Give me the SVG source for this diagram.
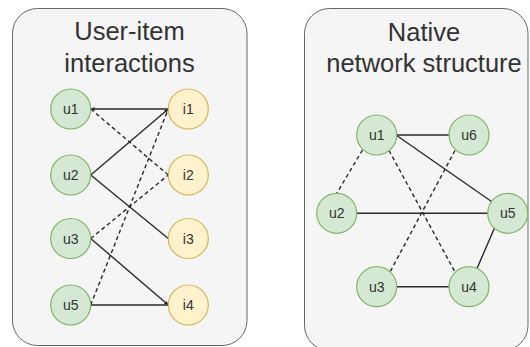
<svg xmlns="http://www.w3.org/2000/svg" width="530" height="347" viewBox="0 0 530 347">
  <style>
    .panel { fill: #f5f5f5; stroke: #666666; stroke-width: 1; }
    .title { font-family: "Liberation Sans", Arial, Helvetica, sans-serif; font-size: 25.5px; fill: #333333; text-anchor: middle; }
    .user { fill: #d5e8d4; stroke: #82b366; stroke-width: 1.2; }
    .item { fill: #fff2cc; stroke: #d6b656; stroke-width: 1.2; }
    .lbl { font-family: "Liberation Sans", Arial, Helvetica, sans-serif; font-size: 14px; fill: #333333; text-anchor: middle; }
    .edge { stroke: #2a2a2a; stroke-width: 1.4; fill: none; }
    .dash { stroke-dasharray: 4 3; }
  </style>
  <defs>
    <marker id="tip" viewBox="0 0 4 4" refX="4" refY="2" markerWidth="4" markerHeight="4" markerUnits="userSpaceOnUse" orient="auto">
      <path d="M0,0 L4,2 L0,4 z" fill="#2a2a2a"/>
    </marker>
  </defs>

  <!-- panels -->
  <g id="panel-interactions">
    <rect class="panel" x="12.5" y="8.5" width="234.5" height="337" rx="25" ry="25"/>
    <text class="title" x="129.5" y="40">User-item</text>
    <text class="title" x="129.5" y="71.5">interactions</text>
  </g>
  <g id="panel-network">
    <rect class="panel" x="304.5" y="8.5" width="223.5" height="342" rx="25" ry="25"/>
    <text class="title" x="424" y="40.5">Native</text>
    <text class="title" x="424" y="71.5">network structure</text>
  </g>

  <!-- connectors -->
  <g id="connectors">
    <!-- bipartite user-item links -->
    <line class="edge" x1="168.3" y1="109" x2="90.7" y2="109" marker-end="url(#tip)"/>
    <line class="edge dash" x1="90.7" y1="109" x2="168.3" y2="175"/>
    <line class="edge" x1="90.7" y1="175" x2="168.3" y2="109" marker-end="url(#tip)"/>
    <line class="edge" x1="90.7" y1="175" x2="168.3" y2="238.5"/>
    <line class="edge dash" x1="90.7" y1="238.5" x2="168.3" y2="175"/>
    <line class="edge" x1="90.7" y1="238.5" x2="168.3" y2="305" marker-end="url(#tip)"/>
    <line class="edge dash" x1="90.7" y1="305" x2="168.3" y2="109"/>
    <line class="edge" x1="90.7" y1="305" x2="168.3" y2="305"/>
    <!-- user-user network links -->
    <line class="edge" x1="396.7" y1="135" x2="449" y2="135"/>
    <line class="edge" x1="396.7" y1="135.5" x2="491.5" y2="201.5"/>
    <line class="edge dash" x1="362.5" y1="150" x2="336.7" y2="193.3"/>
    <line class="edge dash" x1="389" y1="150.5" x2="455" y2="272"/>
    <line class="edge dash" x1="455" y1="150.5" x2="390" y2="272"/>
    <line class="edge" x1="356.7" y1="213.3" x2="487.7" y2="213.3"/>
    <line class="edge" x1="396.7" y1="286.7" x2="449" y2="286.7"/>
    <line class="edge" x1="494.5" y1="228" x2="477" y2="268.5"/>
  </g>

  <!-- user-item nodes -->
  <g id="ui-u1"><circle class="user" cx="70.7" cy="109" r="20"/><text class="lbl" x="70.7" y="114">u1</text></g>
  <g id="ui-u2"><circle class="user" cx="70.7" cy="175" r="20"/><text class="lbl" x="70.7" y="180">u2</text></g>
  <g id="ui-u3"><circle class="user" cx="70.7" cy="238.5" r="20"/><text class="lbl" x="70.7" y="243.5">u3</text></g>
  <g id="ui-u5"><circle class="user" cx="70.7" cy="305" r="20"/><text class="lbl" x="70.7" y="310">u5</text></g>
  <g id="ui-i1"><circle class="item" cx="188.3" cy="109" r="20"/><text class="lbl" x="188.3" y="114">i1</text></g>
  <g id="ui-i2"><circle class="item" cx="188.3" cy="175" r="20"/><text class="lbl" x="188.3" y="180">i2</text></g>
  <g id="ui-i3"><circle class="item" cx="188.3" cy="238.5" r="20"/><text class="lbl" x="188.3" y="243.5">i3</text></g>
  <g id="ui-i4"><circle class="item" cx="188.3" cy="305" r="20"/><text class="lbl" x="188.3" y="310">i4</text></g>

  <!-- network nodes -->
  <g id="net-u1"><circle class="user" cx="376.7" cy="135" r="20"/><text class="lbl" x="376.7" y="140">u1</text></g>
  <g id="net-u6"><circle class="user" cx="469" cy="135" r="20"/><text class="lbl" x="469" y="140">u6</text></g>
  <g id="net-u2"><circle class="user" cx="336.7" cy="213.3" r="20"/><text class="lbl" x="336.7" y="218.3">u2</text></g>
  <g id="net-u5"><circle class="user" cx="507.7" cy="213.3" r="20"/><text class="lbl" x="507.7" y="218.3">u5</text></g>
  <g id="net-u3"><circle class="user" cx="376.7" cy="286.7" r="20"/><text class="lbl" x="376.7" y="291.7">u3</text></g>
  <g id="net-u4"><circle class="user" cx="469" cy="286.7" r="20"/><text class="lbl" x="469" y="291.7">u4</text></g>
</svg>
